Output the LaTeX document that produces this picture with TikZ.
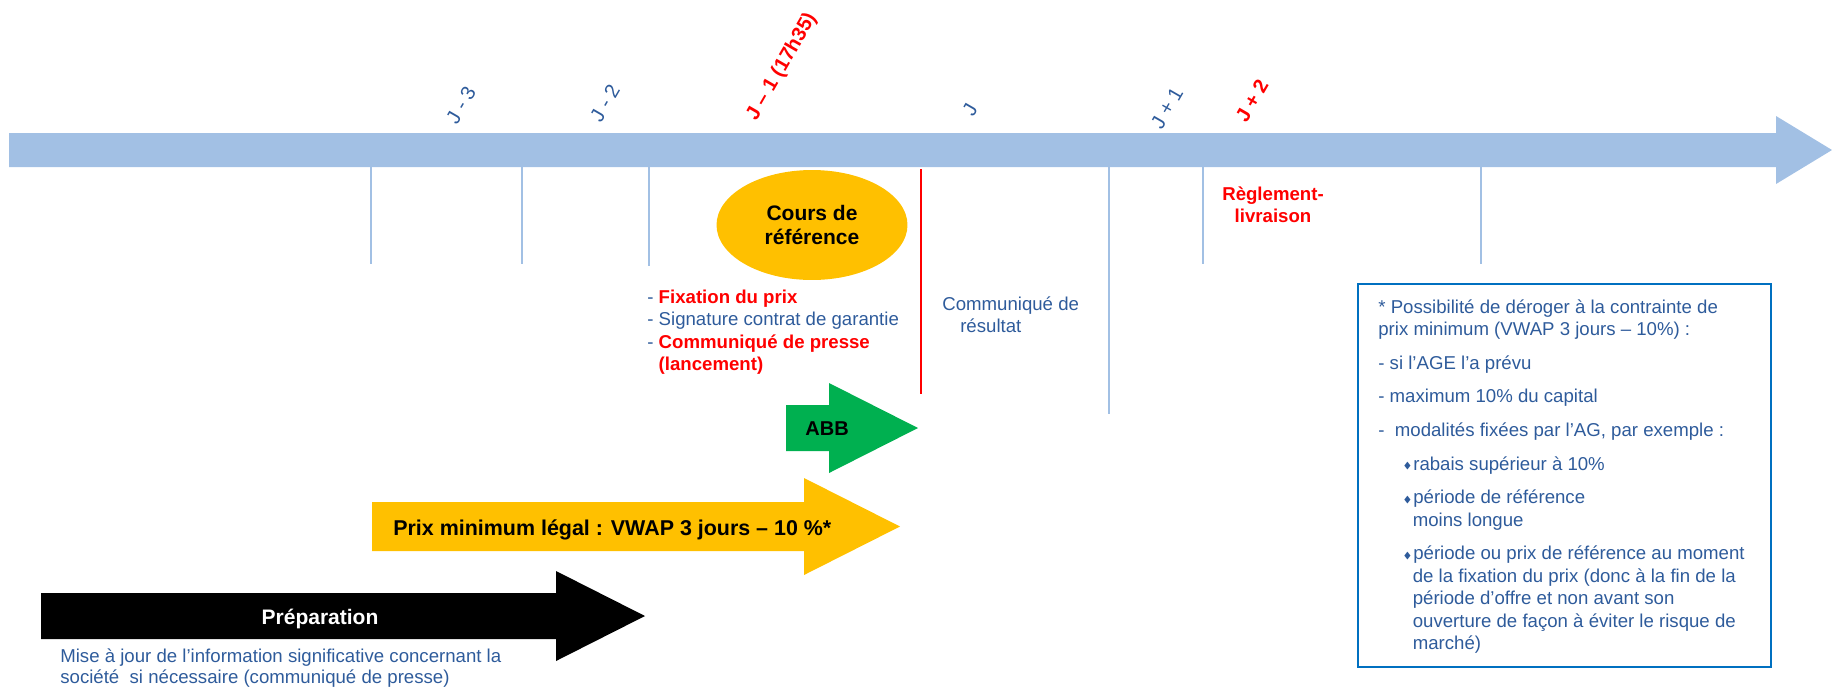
\documentclass[tikz,border=0pt]{standalone}
\usepackage{fontspec}
\setmainfont{Liberation Sans}
\usepackage{amssymb}
\usepackage{tikz}
\usetikzlibrary{positioning}
\usetikzlibrary{shapes.geometric}

\definecolor{axisblue}{HTML}{A2C0E4}
\definecolor{txtblue}{HTML}{2E5B9B}
\definecolor{gold}{HTML}{FFC000}
\definecolor{abbgreen}{HTML}{00B050}
\definecolor{boxblue}{HTML}{0070C0}

\newcommand{\bul}{\makebox[5.7pt][l]{\raisebox{0.8pt}{\tiny$\blacklozenge$}}}

\tikzset{
  txt/.style={inner sep=0pt, text=txtblue, font=\fontsize{10.6pt}{12.8pt}\selectfont},
  txtred/.style={inner sep=0pt, text=red, font=\fontsize{10.6pt}{12.8pt}\selectfont\bfseries},
  day/.style={inner sep=0pt, rotate=60, text=txtblue, font=\fontsize{11.4pt}{13pt}\selectfont},
  dayred/.style={day, text=red, font=\fontsize{11.4pt}{13pt}\selectfont\bfseries},
  daytick/.style={axisblue, line width=1.2pt},
  banner/.style={inner sep=0pt, font=\fontsize{12.2pt}{14pt}\selectfont\bfseries}
}

\begin{document}
\begin{tikzpicture}[x=0.02cm, y=-0.02cm]
\useasboundingbox (0,0) rectangle (1832,687);
\fill[axisblue] (9,133) -- (1776,133) -- (1776,116) -- (1832,150) -- (1776,184) -- (1776,167) -- (9,167) -- cycle;
\foreach \x/\yb in {371/264, 522/264, 649/266, 1109/414, 1203/264, 1481/264}
  \draw[daytick] (\x,167) -- (\x,\yb);
\draw[red, line width=1.4pt] (921,169) -- (921,394);

\node[day] (jm3) at (461,105) {J - 3};
\node[day] (jm2) at (605,103) {J - 2};
\node[dayred] (jm1) at (782,67) {J – 1 (17h35)};
\node[day] (j0) at (970,110) {J};
\node[day] (jp1) at (1167,108) {J + 1};
\node[dayred] (jp2) at (1252,101) {J + 2};

\node[ellipse, fill=gold, minimum width=3.82cm, minimum height=2.2cm, inner sep=0pt, align=center,
  font=\fontsize{11.95pt}{14.2pt}\selectfont\bfseries] (ref) at (812,225) {Cours de\\référence};

\node[txt, anchor=north west, align=left] (fix) at (647,287.25) {\strut- \textcolor{red}{\bfseries Fixation du prix}\\
- Signature contrat de garantie\\
- \textcolor{red}{\bfseries Communiqué de presse}\\
\phantom{- }\textcolor{red}{\bfseries(lancement)}};
\node[txt, anchor=north west, align=left] (res) at (942,294.25) {\strut Communiqué de\\\hspace*{10.2pt}résultat};
\node[txtred, anchor=north, align=center] (rl) at (1273,184.25) {\strut Règlement-\\livraison};

\fill[abbgreen] (786,405) -- (829,405) -- (829,383) -- (918,428) -- (829,473) -- (829,451) -- (786,451) -- cycle;
\node[banner, anchor=base west, font=\fontsize{11.4pt}{13pt}\selectfont\bfseries] (abb) at (805,435) {ABB};

\fill[gold] (372,502) -- (804,502) -- (804,478) -- (900,526.5) -- (804,575) -- (804,551) -- (372,551) -- cycle;
\node[banner, anchor=base west] (prix) at (393,535) {Prix minimum légal : VWAP 3 jours – 10 \%*};

\fill[black] (41,593) -- (556,593) -- (556,571) -- (645,616) -- (556,661) -- (556,639) -- (41,639) -- cycle;
\node[banner, anchor=base, text=white, font=\fontsize{11.95pt}{14pt}\selectfont\bfseries] (prep) at (320,624) {Préparation};
\node[txt, anchor=north west, align=left, font=\fontsize{10.6pt}{12pt}\selectfont] (maj) at (60,647.2) {\strut Mise à jour de l’information significative concernant la\\
société\ \ si nécessaire (communiqué de presse)};

\draw[boxblue, line width=1.6pt] (1358,284) rectangle (1771,667);
\node[txt, anchor=north west, align=left] (note) at (1378,297.25) {\strut* Possibilité de déroger à la contrainte de\\
prix minimum (VWAP 3 jours – 10\%) :\\[6.3pt]
- si l’AGE l’a prévu\\[6.3pt]
- maximum 10\% du capital\\[6.3pt]
- \ modalités fixées par l’AG, par exemple :\\[6.3pt]
\hspace*{14.2pt}\bul rabais supérieur à 10\%\\[6.3pt]
\hspace*{14.2pt}\bul période de référence\\
\hspace*{19.6pt}moins longue\\[6.3pt]
\hspace*{14.2pt}\bul période ou prix de référence au moment\\
\hspace*{19.6pt}de la fixation du prix (donc à la fin de la\\
\hspace*{19.6pt}période d’offre et non avant son\\
\hspace*{19.6pt}ouverture de façon à éviter le risque de\\
\hspace*{19.6pt}marché)};
\end{tikzpicture}
\end{document}
